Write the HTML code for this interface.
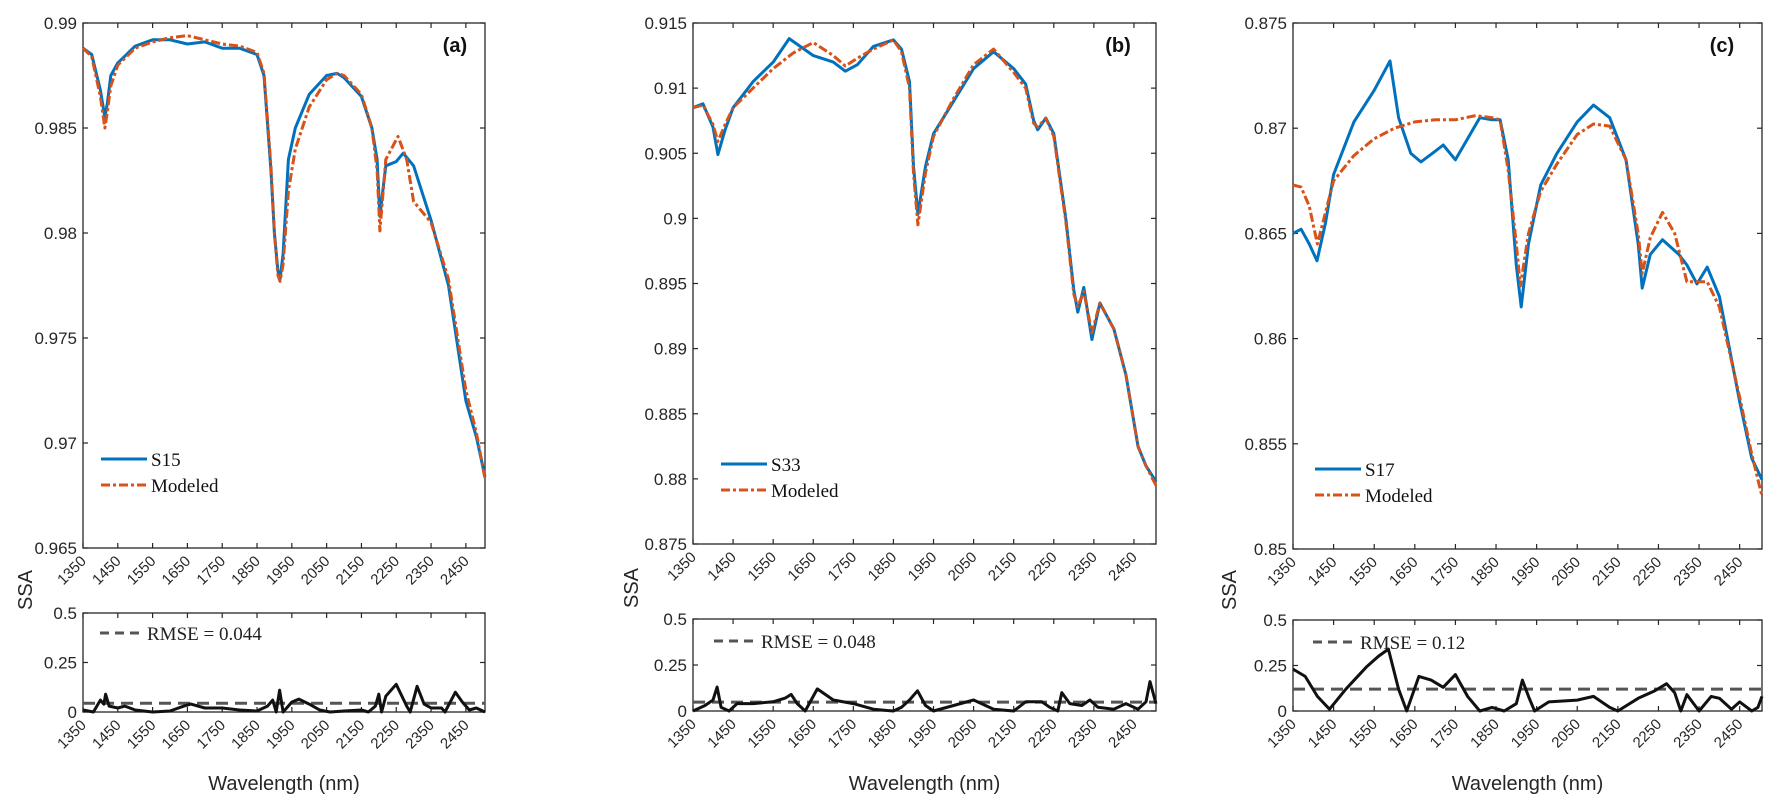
<!DOCTYPE html>
<html><head><meta charset="utf-8"><style>
body{margin:0;background:#fff;}
svg{display:block;font-family:"Liberation Sans",Arial,sans-serif;}
</style></head><body>
<svg id="fig" width="1778" height="810"></svg>
<script>
// ---- data ----
const xTicks=[1350,1450,1550,1650,1750,1850,1950,2050,2150,2250,2350,2450];
// panel a
const aObsWl=[1350,1375,1400,1413,1420,1430,1450,1500,1550,1600,1650,1700,1750,1800,1850,1870,1890,1900,1910,1916,1925,1940,1960,2000,2050,2080,2100,2150,2180,2195,2203,2210,2220,2250,2270,2300,2350,2400,2450,2480,2505];
const aObs=[0.9888,0.9885,0.9868,0.9855,0.9862,0.9875,0.9881,0.9889,0.9892,0.9892,0.9890,0.9891,0.9888,0.9888,0.9885,0.9875,0.9830,0.9800,0.9782,0.9778,0.9790,0.9835,0.9850,0.9866,0.9875,0.9876,0.9874,0.9865,0.9850,0.9835,0.9808,0.9818,0.9832,0.9834,0.9838,0.9832,0.9806,0.9775,0.9720,0.9703,0.9684];
const aModWl=[1350,1375,1400,1413,1420,1430,1450,1500,1550,1600,1650,1700,1750,1800,1850,1870,1890,1900,1910,1916,1925,1940,1960,2000,2050,2080,2100,2150,2180,2195,2203,2210,2220,2255,2280,2300,2350,2400,2450,2480,2505];
const aMod=[0.9888,0.9884,0.9865,0.9850,0.9858,0.9870,0.9880,0.9888,0.9891,0.9893,0.9894,0.9892,0.9890,0.9889,0.9886,0.9876,0.9832,0.9800,0.9780,0.9777,0.9785,0.9820,0.9840,0.9860,0.9873,0.9876,0.9875,0.9866,0.9850,0.9830,0.9801,0.9815,0.9835,0.9846,0.9835,0.9815,0.9805,0.9778,0.9725,0.9705,0.9683];
const aErrWl=[1350,1380,1400,1410,1415,1425,1450,1470,1500,1550,1600,1640,1660,1700,1750,1800,1850,1880,1895,1905,1915,1925,1950,1970,2000,2030,2060,2100,2150,2170,2190,2200,2208,2220,2250,2280,2290,2310,2330,2350,2380,2390,2420,2440,2460,2480,2505];
const aErr=[0.01,0.0,0.06,0.04,0.09,0.03,0.02,0.03,0.01,0.0,0.005,0.03,0.04,0.02,0.02,0.01,0.005,0.03,0.06,0.0,0.11,0.0,0.05,0.065,0.04,0.01,0.0,0.005,0.01,0.0,0.03,0.09,0.0,0.08,0.14,0.03,0.0,0.13,0.04,0.02,0.02,0.0,0.1,0.05,0.01,0.02,0.0];
const aRmse=0.044;
// panel b
const bObsWl=[1350,1375,1400,1412,1430,1450,1500,1550,1590,1650,1700,1730,1760,1800,1850,1870,1890,1900,1911,1930,1950,2000,2050,2100,2150,2180,2200,2210,2230,2250,2280,2300,2310,2325,2345,2365,2400,2430,2460,2480,2505];
const bObs=[0.9085,0.9088,0.9070,0.9049,0.9068,0.9085,0.9105,0.9120,0.9138,0.9125,0.9120,0.9113,0.9118,0.9132,0.9137,0.9130,0.9105,0.9040,0.9003,0.9040,0.9065,0.9090,0.9115,0.9128,0.9115,0.9103,0.9075,0.9068,0.9077,0.9065,0.9000,0.8945,0.8928,0.8947,0.8907,0.8935,0.8915,0.8880,0.8825,0.8810,0.8798];
const bModWl=[1350,1375,1400,1412,1430,1450,1500,1550,1600,1650,1700,1730,1760,1800,1850,1870,1890,1900,1911,1930,1950,2000,2050,2100,2150,2180,2200,2210,2230,2250,2280,2300,2310,2325,2345,2365,2400,2430,2460,2480,2505];
const bMod=[0.9085,0.9087,0.9072,0.9059,0.9072,0.9085,0.9100,0.9115,0.9127,0.9135,0.9125,0.9117,0.9123,0.9130,0.9137,0.9128,0.9100,0.9035,0.8995,0.9035,0.9063,0.9092,0.9118,0.9130,0.9112,0.9100,0.9073,0.9070,0.9077,0.9063,0.8998,0.8942,0.8932,0.8944,0.8912,0.8935,0.8915,0.8880,0.8825,0.8810,0.8795];
const bErrWl=[1350,1380,1400,1410,1420,1440,1460,1500,1550,1580,1595,1610,1630,1660,1700,1750,1800,1850,1870,1890,1910,1930,1950,2000,2050,2100,2150,2180,2220,2240,2260,2270,2290,2320,2340,2360,2400,2430,2460,2480,2490,2505];
const bErr=[0.0,0.03,0.06,0.13,0.02,0.0,0.04,0.04,0.05,0.07,0.09,0.04,0.0,0.12,0.06,0.04,0.01,0.0,0.02,0.06,0.11,0.03,0.0,0.03,0.06,0.01,0.0,0.05,0.05,0.02,0.0,0.1,0.04,0.03,0.06,0.02,0.01,0.04,0.01,0.05,0.16,0.04];
const bRmse=0.048;
// panel c
const cObsWl=[1350,1370,1390,1409,1430,1450,1500,1550,1589,1610,1640,1665,1700,1720,1750,1780,1810,1840,1860,1880,1900,1912,1930,1960,2000,2050,2090,2130,2170,2200,2210,2230,2260,2300,2320,2345,2370,2400,2450,2480,2505];
const cObs=[0.8650,0.8652,0.8645,0.8637,0.8655,0.8678,0.8703,0.8718,0.8732,0.8705,0.8688,0.8684,0.8689,0.8692,0.8685,0.8695,0.8705,0.8704,0.8704,0.8685,0.8635,0.8615,0.8645,0.8673,0.8688,0.8703,0.8711,0.8705,0.8685,0.8645,0.8624,0.8640,0.8647,0.8640,0.8635,0.8626,0.8634,0.8620,0.8570,0.8543,0.8533];
const cModWl=[1350,1370,1390,1410,1430,1450,1500,1550,1600,1650,1700,1750,1800,1840,1860,1880,1900,1910,1930,1960,2000,2050,2090,2130,2170,2200,2210,2230,2260,2290,2320,2345,2370,2400,2450,2480,2505];
const cMod=[0.8673,0.8672,0.8663,0.8645,0.8660,0.8675,0.8687,0.8695,0.8700,0.8703,0.8704,0.8704,0.8706,0.8705,0.8704,0.8680,0.8645,0.8625,0.8650,0.8670,0.8683,0.8697,0.8702,0.8701,0.8685,0.8650,0.8631,0.8648,0.8660,0.8650,0.8627,0.8627,0.8627,0.8615,0.8572,0.8545,0.8525];
const cErrWl=[1350,1380,1410,1440,1480,1530,1560,1585,1610,1630,1660,1690,1720,1750,1780,1810,1840,1870,1900,1915,1930,1945,1980,2050,2090,2130,2150,2200,2240,2270,2290,2305,2320,2350,2380,2400,2430,2450,2480,2495,2505];
const cErr=[0.23,0.19,0.08,0.01,0.12,0.24,0.3,0.34,0.12,0.0,0.19,0.17,0.13,0.2,0.08,0.0,0.02,0.0,0.04,0.17,0.08,0.0,0.05,0.06,0.08,0.02,0.0,0.07,0.11,0.15,0.1,0.0,0.09,0.0,0.08,0.07,0.01,0.05,0.0,0.02,0.08];
const cRmse=0.12;
const aYTicks=[0.965,0.97,0.975,0.98,0.985,0.99];
const bYTicks=[0.875,0.88,0.885,0.89,0.895,0.9,0.905,0.91,0.915];
const cYTicks=[0.85,0.855,0.86,0.865,0.87,0.875];
const errYTicks=[0,0.25,0.5];

const NS='http://www.w3.org/2000/svg';
const svg=document.getElementById('fig');
function mk(tag,attrs,parent,txt){const e=document.createElementNS(NS,tag);for(const k in attrs)e.setAttribute(k,attrs[k]);if(txt!==undefined)e.textContent=txt;(parent||svg).appendChild(e);return e;}
function path(xs,ys,sx,sy){return xs.map((w,i)=>(i?'L':'M')+sx(w).toFixed(1)+','+sy(ys[i]).toFixed(1)).join(' ');}
function fmt(v){return String(+v.toFixed(3));}

const panels=[
 {id:'a',L:83,R:485,T:23,B:548,eT:613,eB:712,ymin:0.965,ymax:0.99,yt:aYTicks,ow:aObsWl,o:aObs,mw:aModWl,m:aMod,ew:aErrWl,e:aErr,rmse:aRmse,name:'S15',lg:[101,459],rl:[100,633],ssa:[32,590],lab:[455,52]},
 {id:'b',L:693,R:1156,T:23,B:544,eT:619,eB:711,ymin:0.875,ymax:0.915,yt:bYTicks,ow:bObsWl,o:bObs,mw:bModWl,m:bMod,ew:bErrWl,e:bErr,rmse:bRmse,name:'S33',lg:[721,464],rl:[714,641],ssa:[638,588],lab:[1118,52]},
 {id:'c',L:1293,R:1762,T:23,B:549,eT:620,eB:711,ymin:0.85,ymax:0.875,yt:cYTicks,ow:cObsWl,o:cObs,mw:cModWl,m:cMod,ew:cErrWl,e:cErr,rmse:cRmse,name:'S17',lg:[1315,469],rl:[1313,642],ssa:[1236,590],lab:[1722,52]}
];
const XMIN=1350,XMAX=2505;
panels.forEach(p=>{
  const g=mk('g',{});
  
  
  const sx=w=>p.L+(w-XMIN)/(XMAX-XMIN)*(p.R-p.L);
  const sy=v=>p.B-(v-p.ymin)/(p.ymax-p.ymin)*(p.B-p.T);
  const ey=v=>p.eB-v/0.5*(p.eB-p.eT);
  // axes boxes
  [[p.T,p.B,'main'],[p.eT,p.eB,'error']].forEach(([t,b,n])=>{
    const r=mk('rect',{x:p.L,y:t,width:p.R-p.L,height:b-t,fill:'none',stroke:'#262626','stroke-width':1.3},g);
    
    
    xTicks.forEach(w=>{
      const x=sx(w);
      mk('line',{x1:x,y1:b,x2:x,y2:b-5,stroke:'#262626','stroke-width':1.2},g);
      mk('line',{x1:x,y1:t,x2:x,y2:t+5,stroke:'#262626','stroke-width':1.2},g);
      const tl=mk('text',{x:x+4,y:b+14,'font-size':15,fill:'#262626','text-anchor':'end',transform:`rotate(-45 ${x+4} ${b+14})`},g,String(w));
      
      
    });
  });
  p.yt.forEach(v=>{
    const y=sy(v);
    mk('line',{x1:p.L,y1:y,x2:p.L+5,y2:y,stroke:'#262626','stroke-width':1.2},g);
    mk('line',{x1:p.R,y1:y,x2:p.R-5,y2:y,stroke:'#262626','stroke-width':1.2},g);
    const t=mk('text',{x:p.L-6,y:y+6,'font-size':17,fill:'#262626','text-anchor':'end'},g,fmt(v));
    
    
  });
  errYTicks.forEach(v=>{
    const y=ey(v);
    mk('line',{x1:p.L,y1:y,x2:p.L+5,y2:y,stroke:'#262626','stroke-width':1.2},g);
    mk('line',{x1:p.R,y1:y,x2:p.R-5,y2:y,stroke:'#262626','stroke-width':1.2},g);
    const t=mk('text',{x:p.L-6,y:y+6,'font-size':17,fill:'#262626','text-anchor':'end'},g,String(v));
    
    
  });
  // series
  const m=mk('path',{d:path(p.mw,p.m,sx,sy),fill:'none',stroke:'#D95319','stroke-width':3,'stroke-dasharray':'9 3 3 3','stroke-linejoin':'round'},g);
  
  
  const o=mk('path',{d:path(p.ow,p.o,sx,sy),fill:'none',stroke:'#0072BD','stroke-width':3,'stroke-linejoin':'round'},g);
  
  
  // redraw modeled on top slightly thinner for visibility
  mk('path',{d:path(p.mw,p.m,sx,sy),fill:'none',stroke:'#D95319','stroke-width':2.5,'stroke-dasharray':'9 3 3 3','stroke-linejoin':'round'},g);
  const rl=mk('line',{x1:p.L,y1:ey(p.rmse),x2:p.R,y2:ey(p.rmse),stroke:'#555','stroke-width':3,'stroke-dasharray':'12 7'},g);
  
  
  const e=mk('path',{d:path(p.ew,p.e,sx,ey),fill:'none',stroke:'#111','stroke-width':3,'stroke-linejoin':'round'},g);
  
  
  // legend
  const [lx,ly]=p.lg;
  const lg=mk('g',{},g);
  
  
  mk('line',{x1:lx,y1:ly,x2:lx+46,y2:ly,stroke:'#0072BD','stroke-width':3},lg);
  mk('text',{x:lx+50,y:ly+7,'font-size':19,'font-family':'"Liberation Serif",serif',fill:'#111'},lg,p.name);
  mk('line',{x1:lx,y1:ly+26,x2:lx+46,y2:ly+26,stroke:'#D95319','stroke-width':3,'stroke-dasharray':'9 3 3 3'},lg);
  mk('text',{x:lx+50,y:ly+33,'font-size':19,'font-family':'"Liberation Serif",serif',fill:'#111'},lg,'Modeled');
  const [rx,ry]=p.rl;
  const rg=mk('g',{},g);
  
  
  mk('line',{x1:rx,y1:ry,x2:rx+45,y2:ry,stroke:'#555','stroke-width':3,'stroke-dasharray':'9 6'},rg);
  mk('text',{x:rx+47,y:ry+7,'font-size':19,'font-family':'"Liberation Serif",serif',fill:'#222'},rg,'RMSE = '+p.rmse);
  const pl=mk('text',{x:p.lab[0],y:p.lab[1],'font-size':20,'font-weight':'bold','text-anchor':'middle',fill:'#111'},g,'('+p.id+')');
  
  
  const s=mk('text',{x:p.ssa[0],y:p.ssa[1],'font-size':20,fill:'#262626','text-anchor':'middle',transform:`rotate(-90 ${p.ssa[0]} ${p.ssa[1]})`},g,'SSA');
  
  
  const xt=mk('text',{x:(p.L+p.R)/2,y:790,'font-size':20,fill:'#262626','text-anchor':'middle'},g,'Wavelength (nm)');
  
  
});
</script>
</body></html>
